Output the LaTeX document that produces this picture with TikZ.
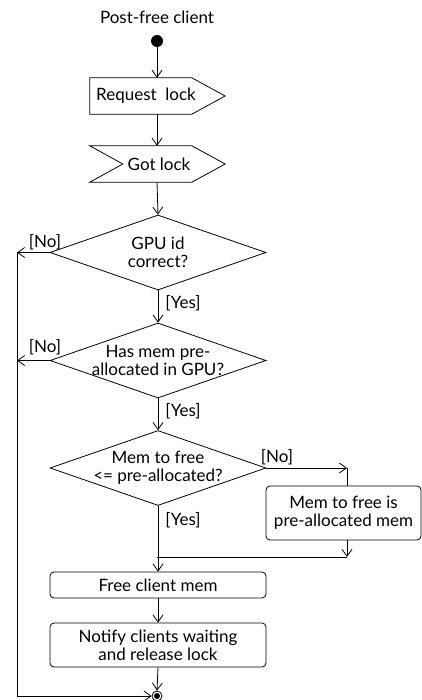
\documentclass[tikz,border=0pt]{standalone}
\usepackage{fontspec}
\setmainfont{Lato}
\usetikzlibrary{shapes.geometric,arrows.meta}
\begin{document}
\begin{tikzpicture}[x=1pt,y=-1pt,
  every node/.style={font=\fontsize{17}{18}\selectfont},
  ln/.style={line width=0.8pt},
  arr/.style={ln,-{Straight Barb[length=7pt,width=10pt,line width=0.8pt]}},
  dec/.style={diamond,draw,ln,inner sep=0pt,minimum width=216pt,minimum height=75pt},
  dtext/.style={inner sep=0pt,align=center},
  act/.style={draw,ln,rounded corners=4pt,inner sep=0pt,align=center},
  sig/.style={inner sep=0pt,minimum width=135pt,minimum height=36pt},
  lbl/.style={inner sep=0pt}]
\useasboundingbox (0,0) rectangle (422,700);
\node[lbl] (title) at (157,17) {Post-free client};
\node[circle,fill=black,inner sep=0pt,minimum size=12pt] (start) at (157,41) {};
% Request lock
\node[sig] (req) at (157.5,96) {};
\draw[ln] (req.north west) -- ++(102,0) -- (req.east) -- ([xshift=102pt]req.south west) -- (req.south west) -- cycle;
\node[lbl] (reqt) at (146,96) {Request\ \ lock};
% Got lock
\node[sig] (got) at (157.5,164) {};
\draw[ln] (got.north west) -- ++(102,0) -- (got.east) -- ([xshift=102pt]got.south west) -- (got.south west) -- ([xshift=33pt]got.west) -- cycle;
\node[lbl] (gott) at (159,164) {Got lock};
% decisions
\node[dec] (d1) at (158,252.5) {};
\node[dtext] (d1t) at (d1.center) {GPU id\\correct?};
\node[dec] (d2) at (158,360.5) {};
\node[dtext] (d2t) at (d2.center) {Has mem pre-\\allocated in GPU?};
\node[dec] (d3) at (158,468) {};
\node[dtext] (d3t) at (d3.center) {Mem to free\\\symbol{"3C}= pre-allocated?};
\node[act,minimum width=155pt,minimum height=54pt] (mb) at (343.5,513) {Mem to free is\\pre-allocated mem};
\node[act,minimum width=216pt,minimum height=26pt] (free) at (158,585) {Free client mem};
\node[act,minimum width=216pt,minimum height=44pt] (note) at (158,645) {Notify clients waiting\\and release lock};
\node[circle,draw,ln,fill=white,inner sep=0pt,minimum size=10pt] (endc) at (157,696) {};
\fill (endc.center) circle (3pt);
% labels
\node[lbl] (no1) at (45,242) {[No]};
\node[lbl] (no2) at (45,347) {[No]};
\node[lbl] (no3) at (277,457) {[No]};
\node[lbl] (yes1) at (183,303) {[Yes]};
\node[lbl] (yes2) at (183,411) {[Yes]};
\node[lbl] (yes3) at (183,520) {[Yes]};
% coordinates
\coordinate (L1) at (17,252.5);
\coordinate (L2) at (17,360.5);
\coordinate (R1) at (347,468);
\coordinate (R2) at (347,557);
\coordinate (J) at (157,557);
% connectors
\draw[arr] (start) -- (start |- req.north);
\draw[arr] (start |- req.south) -- (start |- got.north);
\draw[arr] (start |- got.south) -- (d1.north);
\draw[arr] (d1.south) -- (d2.north);
\draw[arr] (d2.south) -- (d3.north);
\draw[arr] (d1.west) -- (L1);
\draw[arr] (d2.west) -- (L2);
\draw[arr] (d3.east) -- (R1);
\draw[ln] (R1) -- (R1 |- mb.north);
\draw[arr] (R1 |- mb.south) -- (R2);
\draw[ln] (R2) -- (J);
\draw[arr] (d3.south) -- (d3.south |- free.north);
\draw[arr] (d3.south |- free.south) -- (d3.south |- note.north);
\draw[arr] (d3.south |- note.south) -- (endc.north);
\draw[arr] (L1) |- (endc.west);
\end{tikzpicture}
\end{document}
